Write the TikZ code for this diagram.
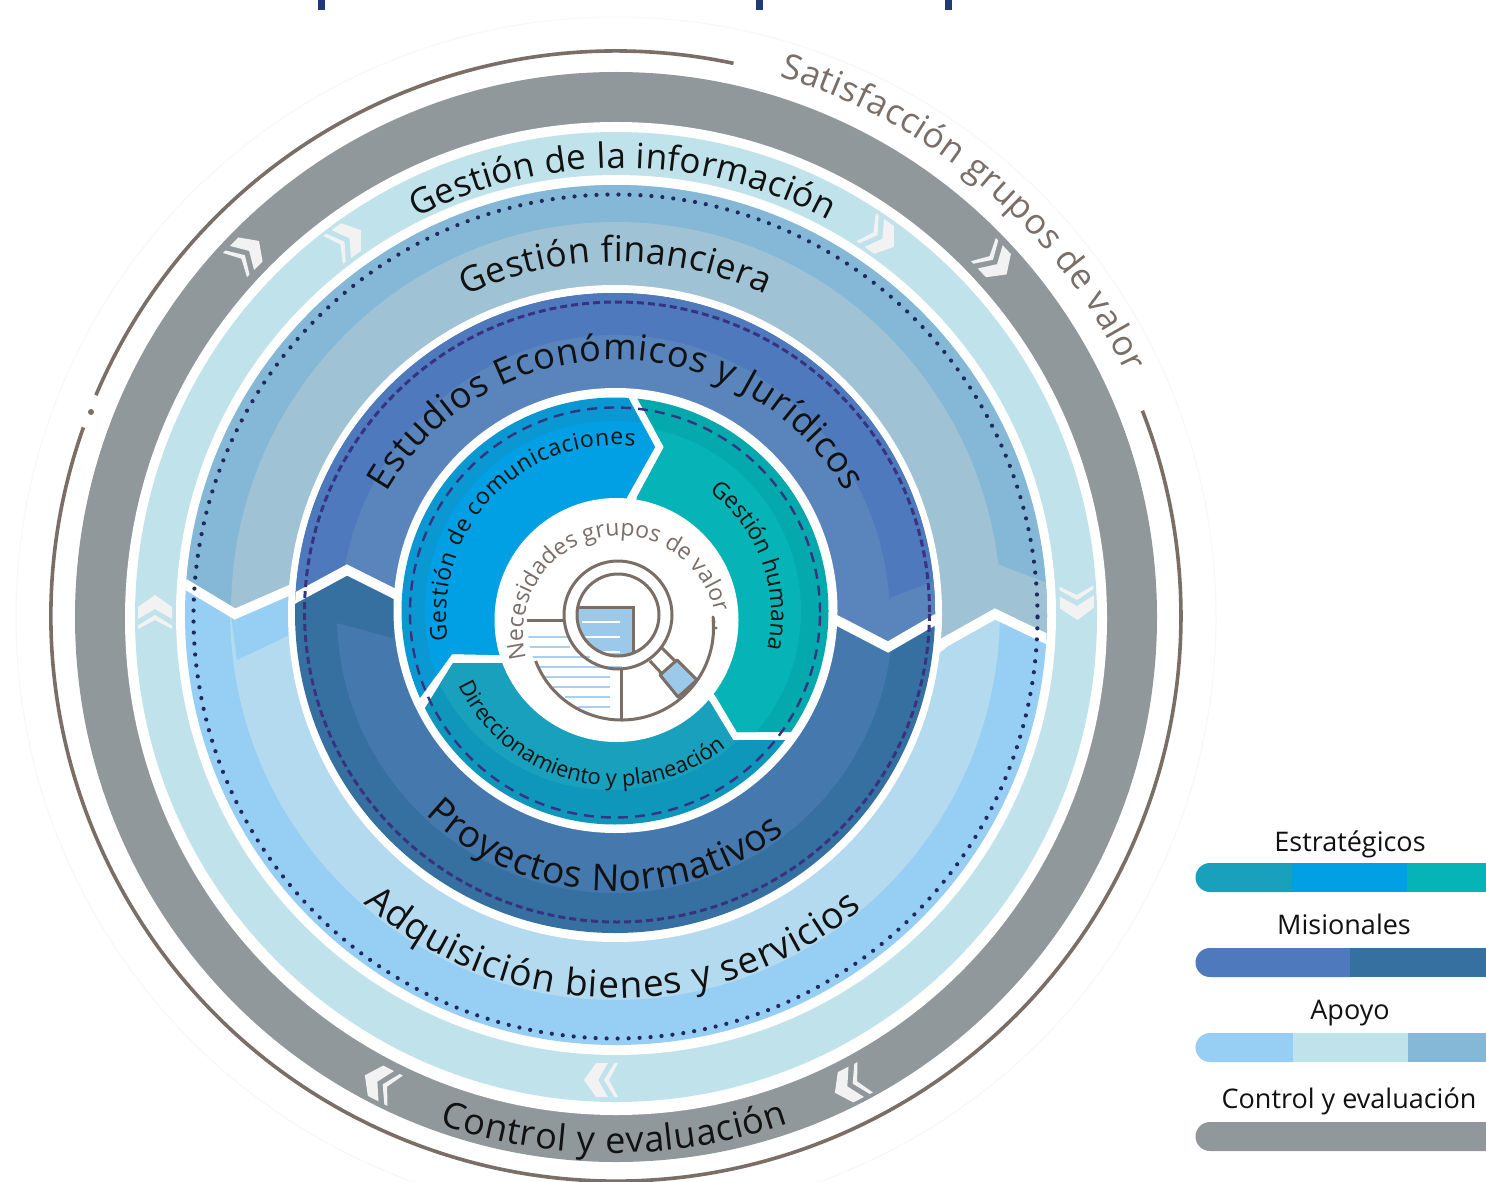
\documentclass[tikz,border=0pt]{standalone}
\usepackage{fontspec}
\setmainfont{Open Sans}
\usetikzlibrary{decorations.text}
\definecolor{cgray}{HTML}{91989B}
\definecolor{clight}{HTML}{C0E2EB}
\definecolor{cbupo}{HTML}{84B8D6}
\definecolor{cbupi}{HTML}{9FC2D4}
\definecolor{cbloo}{HTML}{97CEF3}
\definecolor{cbloi}{HTML}{B4DAEF}
\definecolor{cdupo}{HTML}{4E7ABD}
\definecolor{cdupi}{HTML}{5A85BC}
\definecolor{cdloo}{HTML}{3670A1}
\definecolor{cdloi}{HTML}{4579AE}
\definecolor{ccomo}{HTML}{0A98D3}
\definecolor{ccomi}{HTML}{019FE3}
\definecolor{chumo}{HTML}{03A9AC}
\definecolor{chumi}{HTML}{06B3B6}
\definecolor{cdiro}{HTML}{0E96BB}
\definecolor{cdiri}{HTML}{18A0BC}
\definecolor{cbrown}{HTML}{7A6E66}
\definecolor{cdash}{HTML}{38327F}
\definecolor{cdot}{HTML}{1F2A5E}
\definecolor{cchev}{HTML}{F2F2F2}
\definecolor{cdoc}{HTML}{9CC8EA}
\definecolor{cline}{HTML}{A9CFEE}
\definecolor{cmark}{HTML}{1F3A75}
\definecolor{ctext}{HTML}{111111}
\tikzset{
  dashring/.style={draw=cdash,line width=2.4pt,dash pattern=on 10pt off 7pt},
  dashringb/.style={draw=cdash,line width=3pt,dash pattern=on 7pt off 4pt},
  dotring/.style={draw=cdot,line width=4.2pt,line cap=round,dash pattern=on 0pt off 11pt},
  cut/.style={draw=white,line width=10pt,line join=miter,miter limit=10},
  brownarc/.style={draw=cbrown,line width=3.6pt},
  iconline/.style={draw=cbrown,line width=3pt},
  legendlabel/.style={anchor=base,text=ctext,font=\fontsize{27}{27}\selectfont,inner sep=0pt}
}
\newcommand{\ringtext}[8]{\path[decorate,decoration={text along path,text color=#6,text align={fit to path},text={|\fontsize{#7}{#7}\selectfont|#8}}] (#1,-#2) ++(#4:#3) arc[start angle=#4,end angle=#5,radius=#3pt];}
\newcommand{\chev}[3]{\begin{scope}[shift={(#1,-#2)},rotate=#3]
\fill[cchev] (17,0)--(5,17)--(-7,17)--(3,0)--(-7,-17)--(5,-17)--cycle;
\fill[cchev] (-3,0)--(-13.5,17)--(-17,17)--(-8,0)--(-17,-17)--(-13.5,-17)--cycle;
\end{scope}}
\newcommand{\disc}[5]{\fill[#1] (#2,-#3) ellipse[x radius=#4pt,y radius=#5pt];}
\newcommand{\legendbar}[3]{\fill[#2] (#3,-#1) -- (1210,-#1) arc[start angle=90,end angle=270,radius=14.5pt] -- (#3,-#1-29) -- cycle;}
\begin{document}
\begin{tikzpicture}[x=1pt,y=1pt]
\clip (0,0) rectangle (1486,-1182);
\fill[white] (0,0) rectangle (1486,-1182);
% top marks
\fill[cmark] (318,0) rectangle (325,-10);
\fill[cmark] (756,0) rectangle (763,-10);
\fill[cmark] (945,0) rectangle (952,-10);
% halo and brown arcs
\draw[color=black!3,line width=1pt] (616,-617) circle[radius=600pt];
\draw[brownarc] (616,-616) ++(78:565) arc[start angle=78,end angle=157,radius=565pt];
\draw[brownarc] (616,-616) ++(160.5:565) arc[start angle=160.5,end angle=381.3,radius=565pt];
\fill[cbrown] (91,-412) circle[radius=3pt];
% outer rings
\disc{cgray}{616}{617}{541}{545}
\disc{white}{616}{618.5}{491}{496.5}
\disc{clight}{616}{617}{481}{485}
\disc{white}{616}{615}{440}{440}
% blue ring
\begin{scope}
\clip (616,-615) ellipse[x radius=431pt,y radius=430pt];
\fill[cbloo] (150,-100) rectangle (1100,-1100);
\disc{cbloi}{615}{611}{385}{389}
\fill[cbloo] (237,-660)--(300,-630)--(300,-570)--(225,-570)--cycle;
\begin{scope}
\clip (100,-555)--(185,-584)--(235,-614)--(290,-590)--(945,-642)--(995,-614)--(1047,-639)--(1100,-665)--(1100,-100)--(100,-100)--cycle;
\fill[cbupo] (150,-100) rectangle (1100,-1100);
\disc{cbupi}{616}{611}{385}{389}
\fill[cbupi] (992,-562)--(1060,-588)--(1060,-680)--(985,-680)--cycle;
\end{scope}
\draw[cut] (170,-575)--(185,-584)--(235,-614)--(290,-590)--(300,-585);
\draw[cut] (935,-650)--(945,-642)--(995,-614)--(1047,-639)--(1060,-645);
\end{scope}
\draw[dotring] (615.5,-616.5) circle[radius=422pt];
\disc{white}{615}{613.5}{327}{328.5}
% dark ring
\begin{scope}
\clip (615,-613) ellipse[x radius=320pt,y radius=320pt];
\fill[cdloo] (250,-250) rectangle (1000,-1000);
\disc{cdloi}{615}{615}{278}{278}
\fill[cdloo] (333,-622)--(393,-638)--(400,-560)--(325,-560)--cycle;
\begin{scope}
\clip (260,-617)--(297,-597)--(347,-570)--(393,-593)--(838,-621)--(888,-647)--(938,-618)--(980,-595)--(980,-250)--(260,-250)--cycle;
\fill[cdupo] (250,-250) rectangle (1000,-1000);
\disc{cdupi}{615}{620}{275}{285}
\fill[cdupi] (890,-598)--(950,-575)--(950,-660)--(880,-660)--cycle;
\end{scope}
\draw[cut] (290,-601)--(297,-597)--(347,-570)--(393,-593)--(400,-597);
\draw[cut] (830,-617)--(838,-621)--(888,-647)--(938,-618)--(945,-614);
\end{scope}
\draw[dashringb] (617,-612) ellipse[x radius=312.5pt,y radius=310pt];
\disc{white}{615.5}{610.5}{222}{222.5}
% centre segments
\begin{scope}
\clip (615,-611) circle[radius=213.5pt];
\begin{scope}
\clip (420,-698)--(400,-726)--(370,-726)--(370,-380)--(622,-380)--(628,-397)--(655,-447)--(627,-497)--(616,-620)--(500,-655)--(452,-654)--cycle;
\fill[ccomo] (380,-380) rectangle (860,-860);
\fill[ccomi] (615,-611) circle[radius=190pt];
\end{scope}
\begin{scope}
\clip (627,-380)--(860,-380)--(860,-732)--(737,-732)--(715,-695)--(616,-620)--(637,-497)--(664,-447)--(637,-398)--cycle;
\fill[chumo] (380,-380) rectangle (860,-860);
\fill[chumi] (615,-611) circle[radius=186pt];
\end{scope}
\begin{scope}
\clip (405,-740)--(425,-708)--(453,-663)--(505,-663)--(616,-620)--(710,-702)--(733,-740)--(860,-740)--(860,-860)--(405,-860)--cycle;
\fill[cdiro] (380,-380) rectangle (860,-860);
\fill[cdiri] (610,-600) circle[radius=190pt];
\end{scope}
\end{scope}
\draw[dashring] (615,-612.5) circle[radius=205pt];
\disc{white}{616.5}{620}{122}{122}
% icon
\begin{scope}
\clip (618,-615) circle[radius=41pt];
\fill[cdoc] (578,-607) rectangle (633,-680);
\draw[white,line width=2pt] (582,-622)--(620,-622) (582,-637)--(620,-637) (593,-652)--(620,-652);
\draw[iconline] (570,-607)--(633,-607)--(633,-660);
\end{scope}
\begin{scope}
\clip (620,-628) circle[radius=92pt];
\draw[cline,line width=1.6pt]
 (528,-637)--(567,-637) (528,-647)--(570,-647) (532,-657)--(590,-657)
 (537,-667)--(622,-667) (545,-677)--(610,-677) (553,-687)--(610,-687)
 (565,-697)--(610,-697) (578,-707)--(610,-707);
\end{scope}
\draw[iconline] (618,-615) circle[radius=54pt];
\draw[iconline] (618,-615) circle[radius=41pt];
\draw[iconline] (527,-620.5)--(565,-620.5);
\draw[iconline] (621.5,-670)--(621.5,-720);
\draw[iconline] (621.5,-628) ++(201:92) arc[start angle=201,end angle=365,radius=92pt];
\draw[iconline,line cap=round] (713,-617)--(714,-623);
\fill[cbrown] (716,-628) circle[radius=1.6pt];
\draw[iconline] (662,-648)--(677,-663) (650,-661)--(665,-677);
\draw[iconline,fill=cdoc,line join=round] (677,-660)--(697,-680)--(678,-697)--(660,-675)--cycle;
% chevrons
\chev{247}{253}{45}
\chev{347}{240}{35}
\chev{880}{237}{-35}
\chev{995}{262}{-47}
\chev{1077}{603}{-88}
\chev{155}{612}{90}
\chev{601}{1080}{180}
\chev{380}{1083}{153}
\chev{850}{1085}{-153}
% ring texts
\ringtext{616}{617}{565}{73.2}{25.6}{cbrown}{35}{Satisfacción grupos de valor}
\ringtext{620}{609}{441}{117.5}{61.8}{ctext}{35}{Gestión de la información}
\ringtext{617}{620}{358}{115}{65.5}{ctext}{35.5}{Gestión financiera}
\ringtext{616}{625}{265}{150}{30}{ctext}{36}{Estudios Económicos y Jurídicos}
\ringtext{616}{615}{170}{188.6}{83.6}{ctext}{23}{Gestión de comunicaciones}
\ringtext{616}{615}{155}{53}{-11.7}{ctext}{23}{Gestión humana}
\ringtext{616}{612}{174}{205}{308}{ctext}{22}{Direccionamiento y planeación}
\ringtext{620}{633}{97}{195}{15}{cbrown}{23}{Necesidades grupos de valor}
\ringtext{616}{615}{276}{226.3}{307.7}{ctext}{37}{Proyectos Normativos}
\ringtext{616}{615}{383}{228.8}{310}{ctext}{37}{Adquisición bienes y servicios}
\ringtext{612}{617}{536}{251.2}{289.2}{ctext}{36}{Control y evaluación}
% legend
\legendbar{863}{cdiri}{1293}
\fill[ccomi] (1292,-863) rectangle (1408,-892);
\fill[chumi] (1407,-863) rectangle (1486,-892);
\legendbar{948}{cdupo}{1351}
\fill[cdloo] (1350,-948) rectangle (1486,-977);
\legendbar{1033}{cbloo}{1294}
\fill[clight] (1293,-1033) rectangle (1409,-1062);
\fill[cbupo] (1408,-1033) rectangle (1486,-1062);
\legendbar{1122}{cgray}{1486}
\node[legendlabel] (lest) at (1350,-851) {Estratégicos};
\node[legendlabel] (lmis) at (1344,-934) {Misionales};
\node[legendlabel] (lapo) at (1350,-1019) {Apoyo};
\node[legendlabel] (lcon) at (1349,-1108) {Control y evaluación};
\end{tikzpicture}
\end{document}
